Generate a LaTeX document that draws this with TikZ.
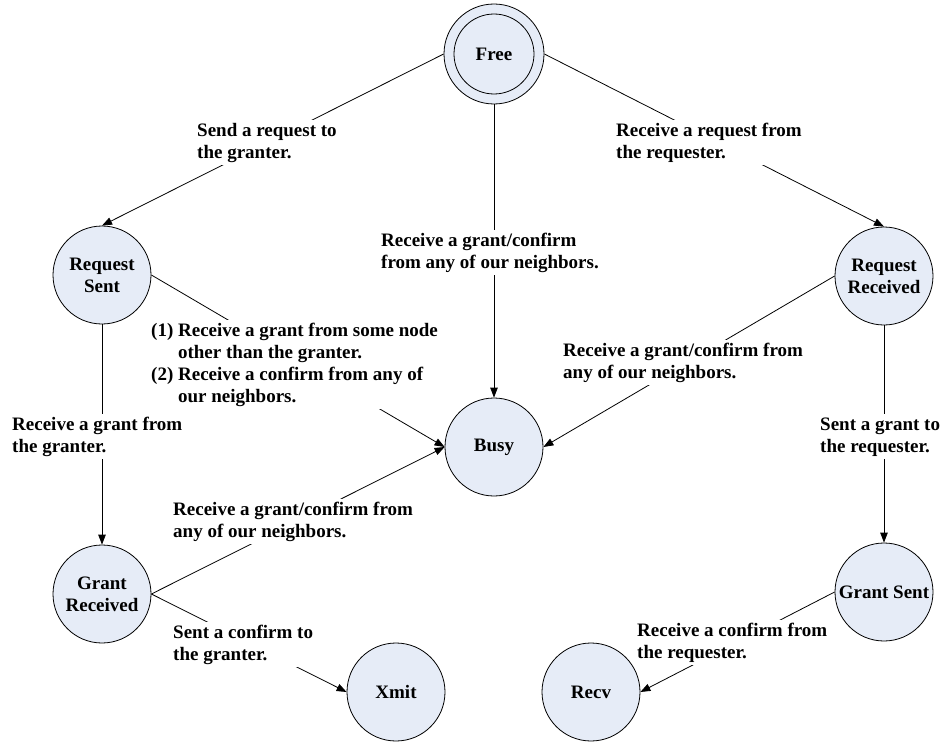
\documentclass[tikz,border=0pt]{standalone}
\usepackage{fontspec}
\setmainfont{Liberation Serif}
\usetikzlibrary{arrows.meta}
\definecolor{statefill}{RGB}{230,236,247}
\begin{document}
\begin{tikzpicture}[x=1bp,y=-1bp,
  every node/.style={font=\fontsize{19bp}{22bp}\selectfont\bfseries},
  state/.style={circle,draw=black,line width=0.8bp,fill=statefill,minimum size=98bp,inner sep=0pt,align=center},
  trans/.style={draw=black,line width=0.8bp,-{Triangle[length=10bp,width=7.5bp]}},
  % a condition is placed by the baseline of its last line
  cond/.style={fill=white,inner sep=3bp,align=left,anchor=base west}]
\useasboundingbox (0,0) rectangle (942,743);

% states
\node[state,minimum size=100bp] (free) at (494,54) {Free};
\draw[line width=0.8bp] (free.center) circle[radius=40];
\node[state] (rs)   at (102,275) {Request\\Sent};
\node[state] (rr)   at (884,276) {Request\\Received};
\node[state] (busy) at (494,447) {Busy};
\node[state] (gr)   at (102,594) {Grant\\Received};
\node[state] (gs)   at (884,592) {Grant Sent};
\node[state] (xmit) at (396,692) {Xmit};
\node[state] (recv) at (591,692) {Recv};

% transitions
\draw[trans] (free.west)  -- (rs.north);
\draw[trans] (free.south) -- (busy.north);
\draw[trans] (free.east)  -- (rr.north);
\draw[trans] (rs.east)    -- (busy.west);
\draw[trans] (rs.south)   -- (gr.north);
\draw[trans] (rr.west)    -- (busy.east);
\draw[trans] (rr.south)   -- (gs.north);
\draw[trans] (gr.east)    -- (busy.west);
\draw[trans] (gr.east)    -- (xmit.west);
\draw[trans] (gs.west)    -- (recv.east);

% transition conditions
\node[cond] (c1)  at (194,158) {Send a request to\\the granter.};
\node[cond] (c2)  at (378,268) {Receive a grant/confirm\\from any of our neighbors.};
\node[cond] (c3)  at (613,158) {Receive a request from\\the requester.};
\node[cond] (c4)  at (148,402) {(1) Receive a grant from some node\\\hphantom{(1)}\ other than the granter.\\(2) Receive a confirm from any of\\\hphantom{(2)}\ our neighbors.};
\node[cond] (c5)  at (9,452)   {Receive a grant from\\the granter.};
\node[cond] (c6)  at (170,537) {Receive a grant/confirm from\\any of our neighbors.};
\node[cond] (c7)  at (170,660) {Sent a confirm to\\the granter.};
\node[cond] (c8)  at (560,378) {Receive a grant/confirm from\\any of our neighbors.};
\node[cond] (c9)  at (817,452) {Sent a grant to\\the requester.};
\node[cond] (c10) at (634,658) {Receive a confirm from\\the requester.};
\end{tikzpicture}
\end{document}
